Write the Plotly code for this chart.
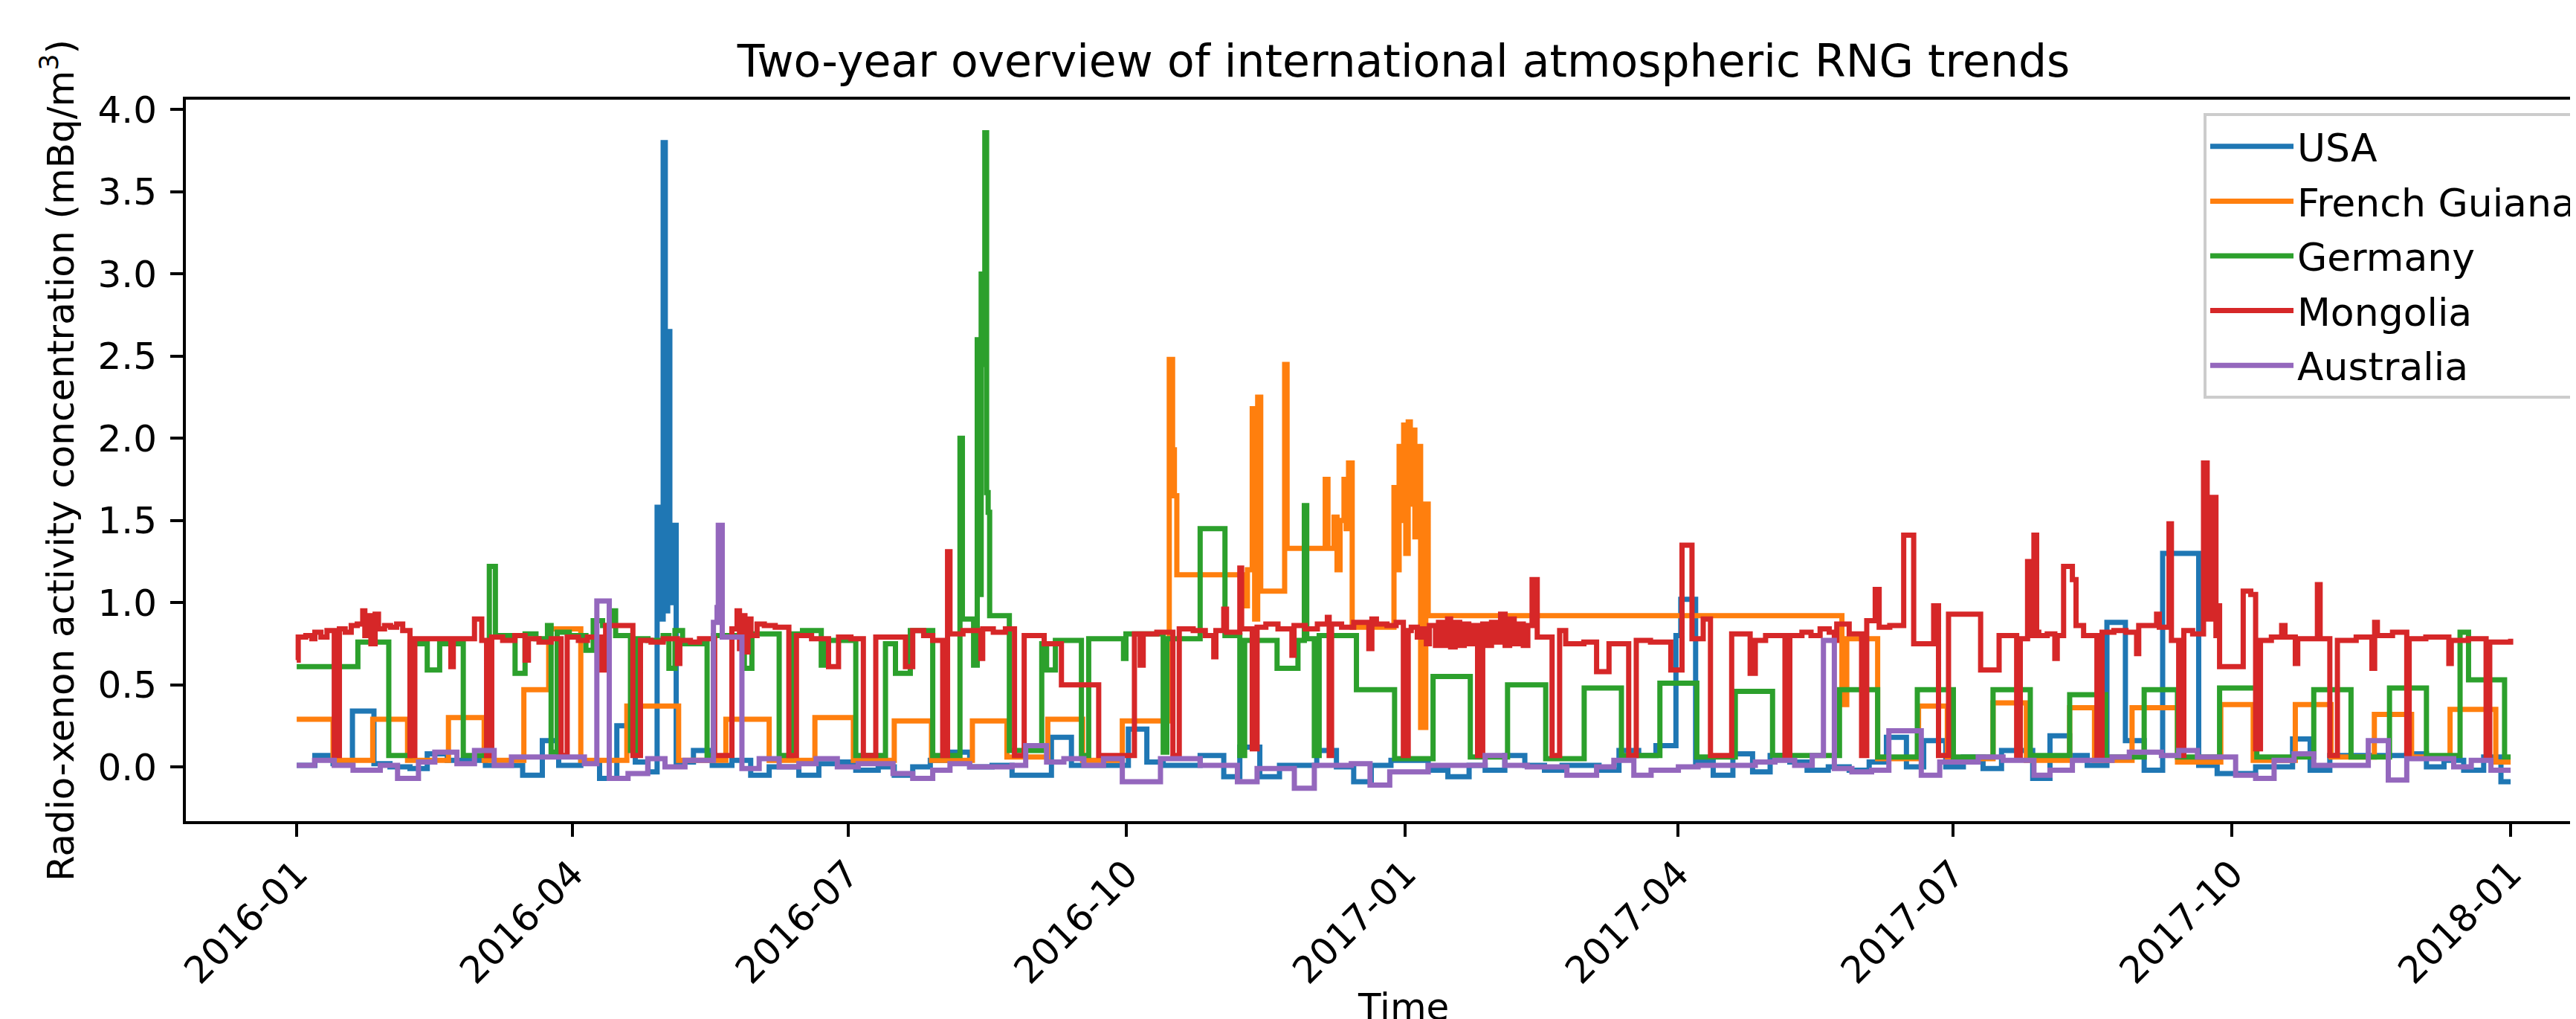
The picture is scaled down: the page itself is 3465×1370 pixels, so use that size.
import pandas as pd
import plotly.graph_objects as go

BASE_DATE = "2016-01-01"

# (days since 2016-01-01, concentration mBq/m3) for each station, step-post
usa = [(0, 0.01), (6, 0.07), (12, 0.02), (18.4, 0.34), (25.5, 0.02), (30.8, 0.0), (37.4, -0.01),
       (43.1, 0.08), (49.7, 0.04), (62.3, 0.01), (74.6, -0.05), (81.1, 0.16), (86.5, 0.01),
       (93.8, 0.03), (100, -0.07), (105.7, 0.25), (111.8, 0.03), (116, -0.03), (119, 1.58),
       (120, 0.9), (121, 3.8), (121.7, 0.95), (122.5, 2.65), (123.2, 1.0), (123.8, 1.47),
       (125.3, 0.03), (131, 0.1), (137.2, 0.01), (143.7, 0.04), (149.9, -0.05), (156, 0.0),
       (165.8, -0.05), (172.4, 0.02), (178.9, 0.03), (184.6, -0.02), (192, 0.0), (197.3, -0.05),
       (203.4, 0.0), (209.2, 0.04), (215.3, 0.09), (222.2, 0.0), (229.6, 0.01), (236.2, -0.05),
       (249.2, 0.18), (255.8, 0.01), (274.6, 0.23), (280.7, 0.03), (286.1, 0.01), (298.3, 0.07),
       (306.1, -0.06), (311.4, 0.12), (318, -0.06), (324.5, 0.01), (336.8, 0.1), (343.3, 0.0),
       (349, -0.09), (354.8, 0.01), (361.3, 0.04), (373.6, -0.02), (380.1, -0.06), (387.1, 0.01),
       (392.4, -0.02), (398.9, 0.07), (405.5, 0.01), (412, -0.02), (417.8, 0.01), (430, -0.02),
       (436.6, 0.1), (443.1, 0.07), (448.8, 0.13), (455.4, 0.8), (457, 1.02), (461.9, 0.03),
       (467.7, -0.05), (474.2, 0.08), (480.7, -0.03), (486.5, 0.07), (493, 0.03), (498.7, -0.02),
       (505.7, 0.0), (512.6, -0.02), (519.2, 0.03), (524.9, 0.18), (531.5, 0.0), (537.2, 0.16),
       (544.5, 0.0), (550.3, 0.06), (556.8, -0.01), (562.9, 0.1), (573.2, -0.07), (578.9, 0.19),
       (585.4, 0.07), (591.2, 0.01), (597.7, 0.88), (603.8, 0.16), (610, -0.02), (616.1, 1.3),
       (628, 0.01), (634.1, -0.04), (646.8, 0.0), (659, 0.17), (664.8, -0.02), (671.3, 0.07),
       (696.7, 0.08), (703.2, 0.0), (709, 0.04), (715.5, -0.02), (722.1, 0.06), (727.8, -0.09),
       (731, -0.09)]

french_guiana = [(0, 0.29), (12, 0.04), (25.1, 0.29), (36.6, 0.04), (50.1, 0.3), (61.9, 0.04),
                 (75, 0.47), (83.2, 0.84), (93.8, 0.04), (109, 0.37), (126.1, 0.04), (141.7, 0.29),
                 (156, 0.04), (171.1, 0.3), (183.8, 0.04), (197.3, 0.28), (209.6, 0.04),
                 (223.1, 0.28), (234.5, 0.06), (248, 0.29), (259.5, 0.04), (272.6, 0.28),
                 (288.1, 2.48), (289.2, 1.93), (289.8, 1.65), (290.6, 1.17), (313, 0.98),
                 (313.9, 1.2), (315.5, 2.18), (316.3, 0.9), (317.3, 2.25), (318.3, 1.07),
                 (326.2, 2.45), (327, 1.33), (339.6, 1.75), (340.5, 1.33), (342.5, 1.52),
                 (343.5, 1.2), (344.5, 1.5), (345.8, 1.75), (346.5, 1.45), (347.3, 1.85),
                 (348.5, 0.85), (362.3, 1.7), (363.2, 1.2), (364, 1.95), (364.8, 1.5),
                 (365.5, 2.08), (366.2, 1.3), (367, 2.1), (367.7, 1.6), (368.5, 2.05), (369.2, 1.4),
                 (370, 1.95), (371.1, 0.24), (372.8, 1.6), (373.6, 0.92), (510.2, 0.38),
                 (511.8, 0.78), (522, 0.05), (535.5, 0.37), (545, 0.05), (560.1, 0.39),
                 (571.1, 0.04), (585.4, 0.36), (593.6, 0.04), (606, 0.36), (621, 0.03),
                 (635.3, 0.38), (646, 0.04), (659.9, 0.38), (671.7, 0.06), (686, 0.32),
                 (698.3, 0.06), (711, 0.35), (726.1, 0.03), (731, 0.03)]

germany = [(0, 0.61), (20.2, 0.76), (30.4, 0.07), (37.4, 0.75), (43.1, 0.59), (47.2, 0.75),
           (55, 0.07), (63.6, 1.22), (65.6, 0.8), (72.1, 0.57), (75.4, 0.81), (79, 0.78),
           (82.8, 0.86), (84, 0.09), (86, 0.82), (90, 0.8), (95.5, 0.71), (97.9, 0.89), (101, 0.86),
           (103.6, 0.95), (105.3, 0.8), (110.2, 0.1), (111.8, 0.78), (116, 0.77), (121, 0.8),
           (122.9, 0.6), (124.9, 0.83), (127.4, 0.75), (135.5, 0.07), (137.6, 0.8), (147.8, 0.6),
           (150.3, 0.81), (159.3, 0.07), (163.4, 0.81), (167, 0.83), (173.2, 0.62), (174, 0.77),
           (184.6, 0.07), (194.4, 0.75), (197.7, 0.57), (202.6, 0.83), (210, 0.07), (219, 2.0),
           (219.8, 0.9), (223.5, 0.62), (224.7, 2.6), (225.3, 1.05), (226, 3.0), (226.6, 2.45),
           (227.2, 3.86), (227.8, 1.67), (228.3, 1.55), (228.8, 0.92), (235.3, 0.1), (246, 0.75),
           (247.6, 0.59), (250.5, 0.77), (259.1, 0.07), (261.5, 0.78), (273, 0.66), (273.8, 0.81),
           (286.1, 0.09), (287.3, 0.78), (298.3, 1.45), (306.5, 0.8), (311.4, 0.07), (313, 0.77),
           (323.7, 0.6), (330.6, 0.77), (332.7, 1.59), (333.5, 0.78), (336, 0.07), (337.6, 0.8),
           (349.9, 0.47), (362.5, 0.05), (375.2, 0.55), (387.5, 0.06), (399.8, 0.5), (412.4, 0.05),
           (425.1, 0.48), (437.4, 0.07), (450.1, 0.51), (462.3, 0.06), (475, 0.46), (487.3, 0.07),
           (509.4, 0.47), (522, 0.06), (535.1, 0.47), (547, 0.06), (560.1, 0.47), (572.4, 0.07),
           (585.4, 0.44), (597.3, 0.06), (610, 0.47), (621, 0.06), (634.9, 0.48), (647.2, 0.06),
           (666, 0.47), (678.3, 0.06), (691, 0.48), (703.2, 0.07), (714.3, 0.82), (717.1, 0.53),
           (729, 0.06), (731, 0.06)]

mongolia = [(0, 0.65), (0.5, 0.79), (3, 0.8), (5, 0.78), (6, 0.82), (8, 0.79), (10, 0.83),
            (12.4, 0.07), (14.1, 0.84), (16, 0.82), (18, 0.86), (20, 0.87), (21.8, 0.95),
            (22.5, 0.8), (23.5, 0.92), (24.5, 0.75), (25.9, 0.93), (27, 0.84), (29, 0.86),
            (31, 0.85), (33, 0.87), (35, 0.83), (37.4, 0.07), (39, 0.78), (50.9, 0.61), (51.7, 0.78),
            (58.7, 0.9), (61.1, 0.77), (62.7, 0.07), (64.4, 0.79), (68, 0.77), (72, 0.8),
            (75.4, 0.65), (76.5, 0.78), (80, 0.76), (84, 0.78), (87.3, 0.07), (89.3, 0.79),
            (93, 0.77), (96, 0.79), (100.4, 0.59), (102, 0.86), (111, 0.07), (113.5, 0.77),
            (117, 0.76), (121, 0.78), (125.7, 0.63), (126.5, 0.77), (130, 0.76), (133, 0.78),
            (138, 0.07), (143.7, 0.84), (145.4, 0.95), (146.2, 0.72), (147, 0.92), (148, 0.7),
            (149, 0.9), (150, 0.8), (152, 0.87), (154.4, 0.86), (158, 0.85), (162.5, 0.07),
            (165, 0.8), (170, 0.78), (175.6, 0.61), (178.9, 0.79), (183, 0.78), (187.1, 0.07),
            (191.2, 0.79), (196, 0.79), (201, 0.61), (203.4, 0.83), (207, 0.8), (210, 0.77),
            (213.3, 0.07), (214.9, 1.31), (215.7, 0.81), (220, 0.83), (225.9, 0.66), (226.5, 0.84),
            (230, 0.82), (234, 0.84), (237, 0.07), (240.2, 0.8), (246.8, 0.75), (252.5, 0.5),
            (264.8, 0.07), (276.6, 0.81), (278.5, 0.62), (279.5, 0.81), (284, 0.82), (289.3, 0.07),
            (291.4, 0.84), (296, 0.83), (300, 0.8), (302.8, 0.67), (303.5, 0.83), (306.1, 0.96),
            (307, 0.82), (311.4, 1.21), (312, 0.84), (315.5, 0.11), (317.1, 0.85), (320, 0.87),
            (324, 0.84), (328.6, 0.68), (329.3, 0.86), (333, 0.84), (337, 0.87), (340.3, 0.91),
            (340.9, 0.07), (341.7, 0.87), (345, 0.85), (349, 0.88), (354, 0.72), (355, 0.9),
            (356.5, 0.87), (360, 0.86), (363, 0.88), (365.4, 0.07), (367, 0.83), (368, 0.85),
            (370, 0.79), (371.5, 0.84), (373, 0.75), (374, 0.86), (376, 0.74), (377, 0.88),
            (378.5, 0.74), (380, 0.9), (381, 0.73), (382.5, 0.88), (384, 0.74), (385.5, 0.87),
            (387, 0.75), (388.5, 0.86), (389.9, 0.07), (391.6, 0.87), (393, 0.74), (394.5, 0.88),
            (396, 0.76), (397.5, 0.93), (399, 0.74), (400.5, 0.9), (402, 0.75), (403.5, 0.87),
            (405, 0.74), (406.5, 0.86), (407.9, 1.14), (409.6, 0.79), (414.5, 0.07), (417, 0.83),
            (419, 0.75), (425, 0.76), (429.2, 0.58), (433.3, 0.75), (439.8, 0.07), (442.3, 0.77),
            (447, 0.76), (453.7, 0.59), (457.4, 1.35), (460.7, 0.78), (464.4, 0.9), (466.8, 0.07),
            (473.8, 0.81), (479.9, 0.57), (481.6, 0.77), (485, 0.8), (488, 0.8), (491.4, 0.07),
            (493, 0.8), (497, 0.82), (500, 0.8), (503, 0.84), (506, 0.82), (507.7, 0.77),
            (508.5, 0.87), (512.6, 0.81), (516.7, 0.07), (518.4, 0.89), (521.2, 1.08),
            (522.5, 0.85), (526, 0.86), (530.6, 1.41), (533.9, 0.75), (540.5, 0.98), (542.1, 0.07),
            (545.4, 0.93), (556, 0.59), (562.1, 0.8), (567.9, 0.07), (569.1, 0.78), (571.5, 1.25),
            (572.5, 0.8), (573.6, 1.41), (574.5, 0.82), (575.2, 0.8), (578, 0.81), (580.5, 0.66),
            (581.3, 0.8), (583.4, 1.22), (586.3, 1.14), (587.5, 0.86), (590, 0.8), (594.4, 0.07),
            (596.1, 0.82), (600, 0.83), (604, 0.82), (607.5, 0.69), (608.2, 0.86), (611, 0.86),
            (614.1, 0.93), (615, 0.85), (618.2, 1.48), (619, 0.77), (621.4, 0.07), (623.1, 0.83),
            (626, 0.81), (629.6, 1.85), (630.8, 0.9), (632.5, 1.64), (633.7, 0.8), (634.5, 0.98),
            (634.9, 0.61), (642.7, 1.07), (645.2, 1.05), (646.8, 0.11), (648.4, 0.77), (652, 0.79),
            (655.4, 0.86), (656.5, 0.79), (659.9, 0.63), (660.7, 0.78), (667.2, 1.11), (668.1, 0.78),
            (671.3, 0.07), (673.8, 0.77), (680, 0.79), (685.2, 0.6), (686.1, 0.88), (687, 0.8),
            (692, 0.82), (696.7, 0.08), (697.5, 0.78), (703, 0.79), (710.6, 0.63), (711.4, 0.77),
            (717, 0.78), (722.9, 0.07), (724.1, 0.76), (731, 0.78)]

australia = [(0, 0.01), (5.9, 0.04), (12.4, 0.01), (18.6, -0.02), (27.6, 0.01), (33.3, -0.07),
             (40.2, 0.03), (45.6, 0.09), (52.9, 0.02), (58.7, 0.1), (65.2, 0.01), (70.9, 0.06),
             (95, 0.02), (99.1, 1.01), (103.2, -0.07), (109.4, -0.04), (115.9, 0.05), (121.6, 0.0),
             (128.2, 0.04), (137.6, 0.88), (138.8, 0.97), (139.2, 1.47), (140.5, 0.79), (147, -0.01),
             (152.7, 0.05), (159.3, 0.0), (165.8, 0.02), (171.5, 0.05), (178.5, 0.0), (185.4, 0.02),
             (196.9, -0.04), (203.4, -0.07), (210, -0.02), (215.7, 0.02), (222.2, 0.0),
             (236.2, 0.01), (240.7, 0.13), (247.6, 0.03), (253.3, 0.05), (259.9, 0.01),
             (266.4, 0.05), (272.6, -0.09), (285.2, 0.05), (298.3, 0.01), (310.6, -0.09),
             (317.1, -0.01), (329.4, -0.13), (336, 0.01), (348.2, 0.02), (354.4, -0.11),
             (360.9, -0.03), (373.6, 0.01), (386.7, 0.01), (392.4, 0.07), (398.9, 0.01),
             (406.3, 0.0), (419.4, -0.05), (429.2, 0.0), (434.9, 0.04), (441.5, -0.05),
             (447.2, -0.02), (456.2, 0.0), (462.7, 0.01), (481.6, 0.03), (488.1, 0.04),
             (494.6, 0.01), (500.4, 0.07), (504.1, 0.77), (507.7, -0.01), (513.5, -0.03),
             (520, -0.02), (525.7, 0.22), (536.4, -0.05), (542.5, 0.03), (555.2, 0.06),
             (563.4, 0.04), (573.6, -0.05), (578.9, -0.02), (586.3, 0.04), (599.4, 0.06),
             (605.1, 0.09), (615.7, 0.07), (621.4, 0.1), (627.6, 0.06), (640.2, -0.05),
             (646.8, -0.07), (652.9, 0.04), (659.5, 0.08), (666, 0.01), (677.9, 0.01), (684, 0.16),
             (690.6, -0.08), (696.7, 0.05), (712.2, 0.0), (718, 0.04), (724.5, -0.02), (731, -0.02)]

series_names = ["USA", "French Guiana", "Germany", "Mongolia", "Australia"]
series_data = [usa, french_guiana, germany, mongolia, australia]
series_colors = ["#1f77b4", "#ff7f0e", "#2ca02c", "#d62728", "#9467bd"]

x_tick_labels = ["2016-01", "2016-04", "2016-07", "2016-10", "2017-01",
                 "2017-04", "2017-07", "2017-10", "2018-01"]
y_tick_values = [0.0, 0.5, 1.0, 1.5, 2.0, 2.5, 3.0, 3.5, 4.0]

FONT = "DejaVu Sans"
TICK_SIZE = 50
base = pd.Timestamp(BASE_DATE)

fig = go.Figure()
for name, pairs, color in zip(series_names, series_data, series_colors):
    days, vals = zip(*pairs)
    xs = base + pd.to_timedelta(list(days), unit="D")
    fig.add_trace(go.Scatter(
        x=xs, y=list(vals), mode="lines", name=name, legendgroup=name,
        line=dict(color=color, width=7, shape="hv"),
    ))

x_left = base - pd.Timedelta(days=36.6)
x_right = base + pd.Timedelta(days=754.3)

fig.update_layout(
    width=3465, height=1370,
    margin=dict(l=242, r=0, t=126, b=274, pad=0),
    paper_bgcolor="white", plot_bgcolor="white",
    font=dict(family=FONT, size=TICK_SIZE, color="black"),
    title=dict(text="Two-year overview of international atmospheric RNG trends",
               font=dict(family=FONT, size=60, color="black"),
               x=1880 / 3465, xref="container", xanchor="center",
               y=1 - 74 / 1370, yref="container", yanchor="middle"),
    showlegend=True,
    legend=dict(x=0.8424, y=(1096 - 144) / 970.5, xanchor="left", yanchor="top",
                bgcolor="rgba(255,255,255,0.8)", bordercolor="#cccccc", borderwidth=4,
                font=dict(family=FONT, size=52, color="black"),
                tracegroupgap=3, itemwidth=112),
    xaxis=dict(
        type="date", range=[x_left, x_right],
        tickmode="array",
        tickvals=[pd.Timestamp(t + "-01") for t in x_tick_labels],
        ticktext=x_tick_labels, tickangle=-45,
        ticks="outside", ticklen=17, tickwidth=4, tickcolor="black",
        showline=True, linewidth=4, linecolor="black", mirror=True,
        showgrid=False, zeroline=False,
        tickfont=dict(family=FONT, size=TICK_SIZE, color="black"),
    ),
    yaxis=dict(
        range=[-0.33, 4.061],
        tickmode="array", tickvals=y_tick_values,
        ticktext=[f"{v:.1f}" for v in y_tick_values],
        ticks="outside", ticklen=17, tickwidth=4, tickcolor="black",
        showline=True, linewidth=4, linecolor="black", mirror=False,
        showgrid=False, zeroline=False, ticklabelstandoff=8,
        tickfont=dict(family=FONT, size=TICK_SIZE, color="black"),
    ),
    annotations=[
        dict(text="Radio-xenon activity concentration (mBq/m<sup>3</sup>)",
             xref="paper", yref="paper", x=(70 - 242) / 3223, y=0.5,
             xanchor="center", yanchor="middle", textangle=-90, showarrow=False,
             font=dict(family=FONT, size=TICK_SIZE, color="black")),
        dict(text="Time", xref="paper", yref="paper", x=(1880 - 242) / 3223,
             y=(1096 - 1346) / 970.5, xanchor="center", yanchor="middle", showarrow=False,
             font=dict(family=FONT, size=TICK_SIZE, color="black")),
    ],
)

fig.write_html("out.html")
